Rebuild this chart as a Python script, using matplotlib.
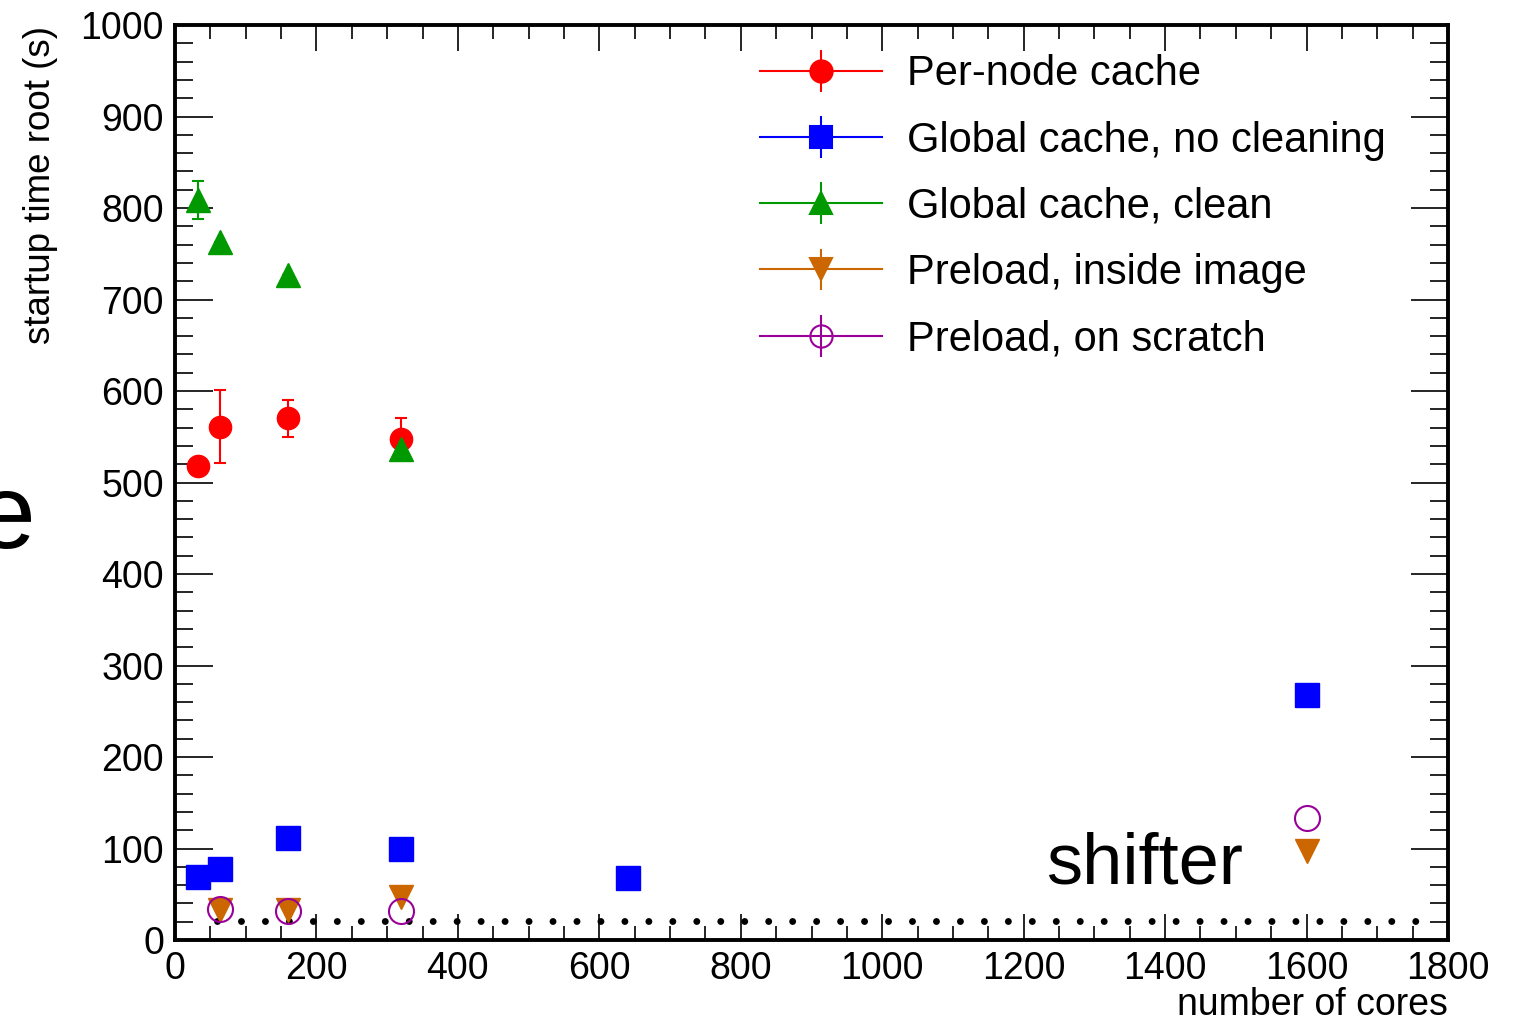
import matplotlib
matplotlib.use("Agg")
import matplotlib.pyplot as plt
import numpy as np
from matplotlib.ticker import MultipleLocator

plt.rcParams['font.family'] = ['Liberation Sans', 'DejaVu Sans']

# data
pernode_x = [32, 64, 160, 320]
pernode_y = [518, 561, 570, 548]
pernode_err = [0, 40, 20, 23]

global_x = [32, 64, 160, 320, 640, 1600]
global_y = [69, 78, 111, 100, 68, 268]

clean_x = [32, 64, 160, 320]
clean_y = [809, 763, 727, 537]
clean_err = [21, 0, 0, 0]

image_x = [64, 160, 320, 1600]
image_y = [33, 33, 47, 97]

scratch_x = [64, 160, 320, 1600]
scratch_y = [34, 32, 32, 133]

# reference level (dotted)
ref_x = [60, 1770]
ref_y = [21, 21]

fig = plt.figure(figsize=(15.17, 10.21), dpi=100)
ax = fig.add_axes([0.1154, 0.0793, 0.8391, 0.8962])

red = '#ff0000'
blue = '#0000ff'
green = '#009900'
orange = '#cc6600'
purple = '#990099'

ax.plot(ref_x, ref_y, color='black', lw=5.0, linestyle=(0, (0.001, 3.45)),
        dash_capstyle='round', zorder=1)

ax.errorbar(pernode_x, pernode_y, yerr=pernode_err, fmt='o', color=red, ms=16,
            elinewidth=1.5, capsize=4, capthick=1.5, zorder=3)
ax.errorbar(global_x, global_y, fmt='s', color=blue, ms=17, zorder=3)
ax.errorbar(clean_x, clean_y, yerr=clean_err, fmt='^', color=green, ms=17,
            elinewidth=1.5, capsize=4, capthick=1.5, zorder=4)
ax.errorbar(image_x, image_y, fmt='v', color=orange, ms=17, zorder=3)
ax.errorbar(scratch_x, scratch_y, fmt='o', color=purple, mfc='none', ms=18,
            mew=1.5, zorder=4)

# legend proxies: line + vertical bar + marker, ROOT style
labels = ['Per-node cache', 'Global cache, no cleaning', 'Global cache, clean',
          'Preload, inside image', 'Preload, on scratch']
styles = [('o', red, red), ('s', blue, blue), ('^', green, green),
          ('v', orange, orange), ('o', purple, 'none')]
handles = []
for (m, c, fc), lab in zip(styles, labels):
    h = ax.errorbar([np.nan], [np.nan], yerr=[1], fmt='-' + m, color=c, mfc=fc,
                    ms=16, lw=1.5, elinewidth=1.5, mew=1.5, label=lab)
    handles.append(h)
ax.legend(handles=handles, loc='upper left', bbox_to_anchor=(0.4596, 0.968),
          frameon=False, fontsize=30, handlelength=2.93, handletextpad=0.6,
          labelspacing=0.63, borderpad=0, borderaxespad=0)

ax.set_xlim(0, 1800)
ax.set_ylim(0, 1000)
ax.xaxis.set_major_locator(MultipleLocator(200))
ax.xaxis.set_minor_locator(MultipleLocator(50))
ax.yaxis.set_major_locator(MultipleLocator(100))
ax.yaxis.set_minor_locator(MultipleLocator(20))

ax.tick_params(axis='both', which='both', direction='in', top=True, right=True,
               width=1.2, labelsize=27)
ax.tick_params(axis='x', which='major', length=19, pad=8)
ax.tick_params(axis='x', which='minor', length=10)
ax.tick_params(axis='y', which='major', length=27, pad=8)
ax.tick_params(axis='y', which='minor', length=13)
for s in ax.spines.values():
    s.set_linewidth(2.8)

ax.set_xlabel('number of cores', fontsize=27, loc='right', labelpad=0)
fig.text(0.027, 0.975, 'startup time root (s)', rotation=90, fontsize=26.5,
         ha='center', va='top')

ax.text(0.839, 0.062, 'shifter', transform=ax.transAxes, fontsize=52,
        ha='right', va='baseline')
fig.text(0.023, 0.463, 'e', fontsize=76, ha='right', va='baseline')

fig.savefig('out.png', dpi=100)
